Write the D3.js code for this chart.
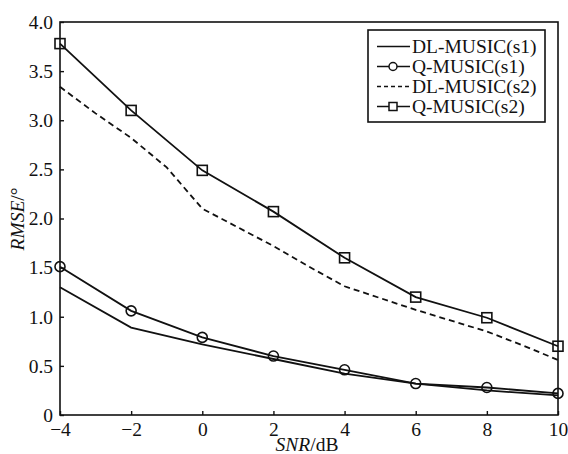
<!DOCTYPE html>
<html>
<head>
<meta charset="utf-8">
<script src="https://cdn.jsdelivr.net/npm/d3@7/dist/d3.min.js"></script>
<style>
  html, body { margin: 0; padding: 0; background: #fff; }
  svg { display: block; }
  text { font-family: "Liberation Serif", "Times New Roman", serif; fill: #111; }
</style>
</head>
<body>
<svg id="chart" width="568" height="454"></svg>
<script>
// SNR grid (dB) for the marked curves
const snr = [-4, -2, 0, 2, 4, 6, 8, 10];
// DL-MUSIC(s2) sampled at every integer dB
const snrFine = [-4, -3, -2, -1, 0, 1, 2, 3, 4, 5, 6, 7, 8, 9, 10];

const dlMusicS1 = [1.30, 0.89, 0.72, 0.57, 0.42, 0.32, 0.25, 0.20];
const qMusicS1  = [1.51, 1.06, 0.79, 0.60, 0.46, 0.32, 0.28, 0.22];
const dlMusicS2 = [3.34, 3.07, 2.82, 2.52, 2.10, 1.91, 1.72, 1.51, 1.31, 1.19, 1.07, 0.96, 0.85, 0.71, 0.56];
const qMusicS2  = [3.78, 3.10, 2.49, 2.07, 1.60, 1.20, 0.99, 0.70];

const xTicks = [-4, -2, 0, 2, 4, 6, 8, 10];
const xTickLabels = ["\u22124", "\u22122", "0", "2", "4", "6", "8", "10"];
const yTicks = [0, 0.5, 1.0, 1.5, 2.0, 2.5, 3.0, 3.5, 4.0];
const yTickLabels = ["0", "0.5", "1.0", "1.5", "2.0", "2.5", "3.0", "3.5", "4.0"];

const seriesNames = ["DL-MUSIC(s1)", "Q-MUSIC(s1)", "DL-MUSIC(s2)", "Q-MUSIC(s2)"];

const svg = d3.select("#chart");
const m = { left: 60, top: 22, right: 558, bottom: 415 };
const ink = "#111";
const fs = 19.5;

const x = d3.scaleLinear().domain([-4, 10]).range([m.left, m.right]);
const y = d3.scaleLinear().domain([0, 4]).range([m.bottom, m.top]);

// frame
svg.append("rect")
  .attr("x", m.left).attr("y", m.top)
  .attr("width", m.right - m.left).attr("height", m.bottom - m.top)
  .attr("fill", "none").attr("stroke", ink).attr("stroke-width", 1.6);

// axes with inward ticks
const xAxis = d3.axisBottom(x).tickValues(xTicks)
  .tickFormat((d, i) => xTickLabels[i]).tickSizeInner(-4).tickSizeOuter(0).tickPadding(7);
const gx = svg.append("g").attr("transform", `translate(0,${m.bottom})`).call(xAxis);
gx.select(".domain").remove();
gx.selectAll(".tick line").attr("stroke", ink).attr("stroke-width", 1.4);
gx.selectAll(".tick text").attr("font-size", fs).attr("font-family", "Liberation Serif").attr("fill", ink);

const yAxis = d3.axisLeft(y).tickValues(yTicks)
  .tickFormat((d, i) => yTickLabels[i]).tickSizeInner(-4).tickSizeOuter(0).tickPadding(7);
const gy = svg.append("g").attr("transform", `translate(${m.left},0)`).call(yAxis);
gy.select(".domain").remove();
gy.selectAll(".tick line").attr("stroke", ink).attr("stroke-width", 1.4);
gy.selectAll(".tick text").attr("font-size", fs).attr("font-family", "Liberation Serif").attr("fill", ink);

// axis titles
const xt = svg.append("text").attr("x", 307).attr("y", 451)
  .attr("text-anchor", "middle").attr("font-size", fs);
xt.append("tspan").attr("font-style", "italic").text("SNR");
xt.append("tspan").text("/dB");

const yt = svg.append("text")
  .attr("transform", "translate(24,219) rotate(-90)")
  .attr("text-anchor", "middle").attr("font-size", fs);
yt.append("tspan").attr("font-style", "italic").text("RMSE");
yt.append("tspan").text("/\u00b0");

// curves
const line = d3.line().x(d => x(d[0])).y(d => y(d[1]));
const zip = (xs, ys) => xs.map((v, i) => [v, ys[i]]);

const curves = [
  { data: zip(snr, dlMusicS1), dash: null, marker: null },
  { data: zip(snr, qMusicS1), dash: null, marker: "circle" },
  { data: zip(snrFine, dlMusicS2), dash: "6,4", marker: null },
  { data: zip(snr, qMusicS2), dash: null, marker: "square" }
];

curves.forEach(c => {
  svg.append("path").datum(c.data)
    .attr("d", line).attr("fill", "none")
    .attr("stroke", ink).attr("stroke-width", 1.8)
    .attr("stroke-dasharray", c.dash);
});

function drawMarker(g, type, cx, cy) {
  if (type === "circle") {
    g.append("circle").attr("cx", cx).attr("cy", cy).attr("r", 5)
      .attr("fill", "none").attr("stroke", ink).attr("stroke-width", 1.6);
  } else if (type === "square") {
    g.append("rect").attr("x", cx - 5).attr("y", cy - 5)
      .attr("width", 10).attr("height", 10)
      .attr("fill", "none").attr("stroke", ink).attr("stroke-width", 1.6);
  }
}

curves.forEach(c => {
  if (!c.marker) return;
  const g = svg.append("g");
  c.data.forEach(d => drawMarker(g, c.marker, x(d[0]), y(d[1])));
});

// legend
const lg = svg.append("g");
lg.append("rect").attr("x", 368).attr("y", 30).attr("width", 177).attr("height", 92)
  .attr("fill", "#fff").attr("stroke", ink).attr("stroke-width", 1.6);
seriesNames.forEach((name, i) => {
  const base = 53 + i * 20;
  const ly = base - 6.5;
  const c = curves[i];
  lg.append("line").attr("x1", 377).attr("x2", 410).attr("y1", ly).attr("y2", ly)
    .attr("stroke", ink).attr("stroke-width", 1.6)
    .attr("stroke-dasharray", c.dash ? "4,3" : null);
  if (c.marker === "circle") {
    lg.append("circle").attr("cx", 393).attr("cy", ly).attr("r", 4)
      .attr("fill", "#fff").attr("stroke", ink).attr("stroke-width", 1.5);
  } else if (c.marker === "square") {
    lg.append("rect").attr("x", 389).attr("y", ly - 4).attr("width", 8).attr("height", 8)
      .attr("fill", "#fff").attr("stroke", ink).attr("stroke-width", 1.5);
  }
  lg.append("text").attr("x", 412).attr("y", base)
    .attr("font-size", fs).text(name);
});
</script>
</body>
</html>
